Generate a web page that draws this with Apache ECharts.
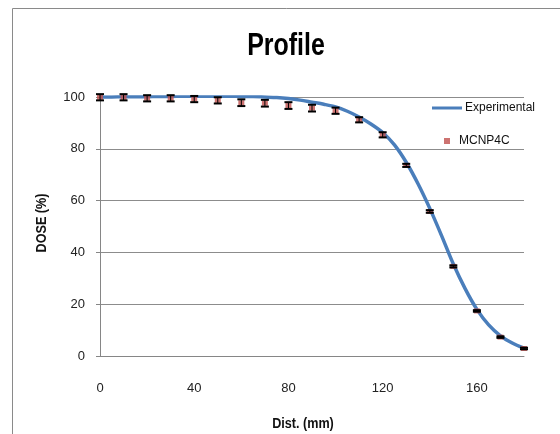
<!DOCTYPE html>
<html>
<head>
<meta charset="utf-8">
<script src="https://cdn.jsdelivr.net/npm/echarts@6/dist/echarts.min.js"></script>
<style>
html,body{margin:0;padding:0;background:#fff;}
#chart{width:560px;height:434px;}
</style>
</head>
<body>
<div id="chart"></div>
<script>
// Experimental profile (dist mm, dose %)
var expX = [0,5,10,15,20,25,30,35,40,45,50,55,60,65,70,75,80,85,90,95,100,105,110,115,120,125,130,135,140,145,150,155,160,165,170,175,180];
var expY = [100.0,100.0,100.1,100.1,100.1,100.2,100.2,100.3,100.3,100.3,100.3,100.3,100.2,100.2,100.0,99.8,99.4,98.8,98.0,97.2,96.2,94.5,92.3,89.6,86.3,81.5,74.8,66.5,57.0,46.5,35.5,26.0,18.0,12.0,7.8,5.0,3.0];
// MCNP4C simulation with error bars
var mcX = [0,10,20,30,40,50,60,70,80,90,100,110,120,130,140,150,160,170,180];
var mcY = [99.9,99.9,99.5,99.5,99.2,98.7,97.8,97.6,96.7,95.7,94.7,91.2,85.4,73.6,55.8,34.6,17.4,7.3,2.9];
var mcErr = [1.2,1.2,1.2,1.2,1.2,1.2,1.3,1.3,1.3,1.3,1.2,1.0,1.0,0.6,0.5,0.4,0.3,0.3,0.3];
var xTicks = [0,40,80,120,160];
var yTicks = [0,20,40,60,80,100];

var FONT = "'Liberation Sans',sans-serif";
var chart = echarts.init(document.getElementById('chart'), null, {renderer:'canvas'});

var expData = expX.map(function(x,i){return [x, expY[i]];});
var mcData = mcX.map(function(x,i){return [x, mcY[i]];});
var errData = mcX.map(function(x,i){return [x, mcY[i]-mcErr[i], mcY[i]+mcErr[i]];});

chart.setOption({
  animation:false,
  backgroundColor:'#fff',
  grid:{left:100, right:36, top:97, bottom:78, containLabel:false},
  xAxis:{
    type:'value', min:0, max:180, interval:40,
    axisLine:{show:true, lineStyle:{color:'#868686', width:1}},
    axisTick:{show:false},
    splitLine:{show:false},
    axisLabel:{
      margin:26, fontFamily:FONT, fontSize:13, color:'#222',
      formatter:function(v){return xTicks.indexOf(v)>=0 ? String(v) : '';}
    }
  },
  yAxis:{
    type:'value', min:0, max:100, interval:20,
    axisLine:{show:true, lineStyle:{color:'#868686', width:1}},
    axisTick:{show:true, length:4, lineStyle:{color:'#868686'}},
    splitLine:{show:true, lineStyle:{color:'#8c8c8c', width:1}},
    axisLabel:{
      margin:15, fontFamily:FONT, fontSize:13, color:'#222',
      formatter:function(v){return yTicks.indexOf(v)>=0 ? String(v) : '';}
    }
  },
  legend:[
    {
      left:427, top:97, itemWidth:30, itemHeight:3,
      textStyle:{fontFamily:FONT, fontSize:12, color:'#111', padding:[0,0,0,-2]},
      data:[{name:'Experimental', icon:'rect', itemStyle:{color:'#4A7EBB'}}]
    },
    {
      left:439, top:130, itemWidth:6, itemHeight:6,
      textStyle:{fontFamily:FONT, fontSize:12, color:'#111', padding:[0,0,0,4]},
      data:[{name:'MCNP4C', icon:'rect', itemStyle:{color:'#C0504D'}}]
    }
  ],
  graphic:[
    {type:'line', shape:{x1:12.5,y1:8.5,x2:560,y2:8.5}, style:{stroke:'#8a8a8a', lineWidth:1}},
    {type:'line', shape:{x1:12.5,y1:8.5,x2:12.5,y2:434}, style:{stroke:'#8a8a8a', lineWidth:1}},
    {type:'text', x:286, y:46, scaleX:0.78, style:{text:'Profile', font:"bold 32px 'Liberation Sans',sans-serif", fill:'#000', align:'center', verticalAlign:'middle'}},
    {type:'text', x:303, y:424, scaleX:0.9, style:{text:'Dist. (mm)', font:"bold 14px 'Liberation Sans',sans-serif", fill:'#111', align:'center', verticalAlign:'middle'}},
    {type:'text', x:42, y:223, rotation:Math.PI/2, scaleX:0.9, style:{text:'DOSE (%)', font:"bold 14px 'Liberation Sans',sans-serif", fill:'#111', align:'center', verticalAlign:'middle'}}
  ],
  series:[
    {
      name:'Experimental', type:'line', data:expData, smooth:0.3,
      showSymbol:false, symbol:'none',
      lineStyle:{color:'#4A7EBB', width:3.5},
      z:3
    },
    {
      name:'MCNP4C', type:'scatter', data:mcData,
      symbol:'rect', symbolSize:[6,5],
      itemStyle:{color:'#C0504D'},
      z:4
    },
    {
      name:'err', type:'custom', data:errData, z:5,
      renderItem:function(params, api){
        var x = api.value(0);
        var lo = api.coord([x, api.value(1)]);
        var hi = api.coord([x, api.value(2)]);
        var hw = 4;
        return {
          type:'group',
          children:[
            {type:'line', shape:{x1:lo[0],y1:lo[1],x2:hi[0],y2:hi[1]}, style:{stroke:'#000', lineWidth:1}},
            {type:'line', shape:{x1:lo[0]-hw,y1:lo[1],x2:lo[0]+hw,y2:lo[1]}, style:{stroke:'#000', lineWidth:2}},
            {type:'line', shape:{x1:hi[0]-hw,y1:hi[1],x2:hi[0]+hw,y2:hi[1]}, style:{stroke:'#000', lineWidth:2}}
          ]
        };
      }
    }
  ]
});
</script>
</body>
</html>
